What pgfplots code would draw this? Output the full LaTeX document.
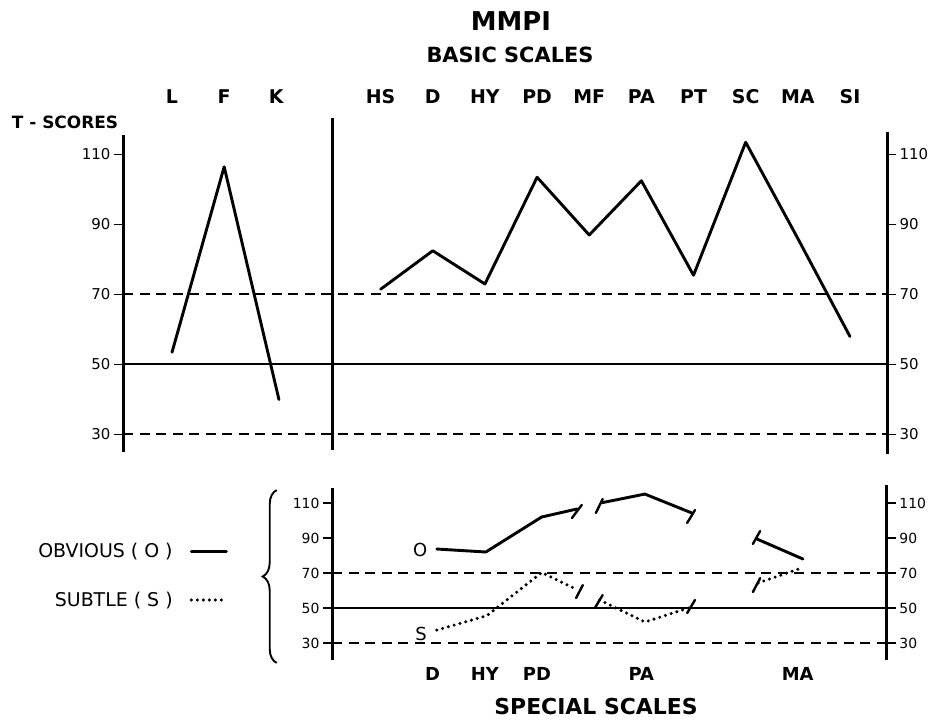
\documentclass[border=0pt]{standalone}
\usepackage{fontspec}
\setmainfont{DejaVu Sans}
\usepackage{pgfplots}
\pgfplotsset{compat=1.18}
\usetikzlibrary{decorations.pathreplacing}
\newcommand{\fs}[1]{\fontsize{#1}{#1}\selectfont}
\pgfplotsset{
  mmpi/.style={scale only axis, clip=false, axis line style={draw=none},
    ytick={30,50,70,90,110}, tick align=outside, major tick length=9bp,
    tick style={black, line width=1.8bp},
    /pgf/number format/assume math mode=true},
}
\tikzset{
  obv/.style={black, line width=2.9bp, line join=round, line cap=round},
  sub/.style={black, line width=3.4bp, line cap=round, dash pattern=on 0bp off 6bp},
  bar/.style={black, line width=2.4bp, line cap=round},
  gdash/.style={black, line width=2bp, dash pattern=on 10bp off 6.5bp},
  gsolid/.style={black, line width=2bp},
  vline/.style={black, line width=3bp},
}
\begin{document}
\begin{tikzpicture}
\useasboundingbox (0bp,0bp) rectangle (934bp,721bp);
% ---------------- BASIC SCALES ----------------
\begin{axis}[mmpi, at={(123bp,269bp)}, anchor=south west, width=764bp, height=339.5bp,
  xmin=0.06, xmax=14.71, ymin=25, ymax=122, ytick pos=left,
  yticklabel style={font=\fs{15}},
  xtick={1,2,3,5,6,7,8,9,10,11,12,13,14},
  xticklabels={L,F,K,HS,D,HY,PD,MF,PA,PT,SC,MA,SI},
  xticklabel pos=upper, major x tick style={draw=none},
  xticklabel style={font=\bfseries\fs{19}, anchor=south, inner sep=0pt, yshift=0bp}]
\addplot[gdash] coordinates {(0.06,70) (14.71,70)};
\addplot[gsolid] coordinates {(0.06,50.15) (14.71,50.15)};
\addplot[gdash] coordinates {(0.06,30) (14.71,30)};
\draw[vline] (axis cs:0.06,25) -- (axis cs:0.06,115.5);
\draw[vline] (axis cs:4.07,25.5) -- (axis cs:4.07,120.3);
\draw[vline] (axis cs:14.71,24.5) -- (axis cs:14.71,116.5);
\addplot[obv] coordinates {(1,53.5) (2,106.5) (3.05,40)};
\addplot[obv] coordinates {(5,71.5) (6,82.5) (7,73) (8,103.5) (9,87) (10,102.5) (11,75.5) (12,113.5) (13,86) (14,58)};
\end{axis}
\begin{axis}[mmpi, at={(123bp,269bp)}, anchor=south west, width=764bp, height=339.5bp,
  xmin=0.06, xmax=14.71, ymin=25, ymax=122, ytick pos=right, yticklabel pos=right,
  yticklabel style={font=\fs{15}}, xtick=\empty]
\end{axis}
% ---------------- SPECIAL SCALES ----------------
\begin{axis}[mmpi, at={(332bp,60.5bp)}, anchor=south west, width=554.9bp, height=173.25bp,
  xmin=4.07, xmax=14.71, ymin=20, ymax=119, ytick pos=left,
  yticklabel style={font=\fs{14}},
  xtick={6,7,8,10,13}, xticklabels={D,HY,PD,PA,MA},
  xticklabel pos=lower, major x tick style={draw=none},
  xticklabel style={font=\bfseries\fs{18}, anchor=north, inner sep=0pt, yshift=2.5bp},
  legend style={at={(-0.187,0.49)}, anchor=east, draw=none, fill=none, font=\fs{19},
    row sep=29bp, column sep=15bp, inner sep=0pt},
  legend cell align=right, legend plot pos=right,
  legend image code/.code={\draw[#1] (0bp,0bp) -- (35bp,0bp);}]
\addplot[gdash, forget plot] coordinates {(4.07,70) (14.71,70)};
\addplot[gsolid, forget plot] coordinates {(4.07,50) (14.71,50)};
\addplot[gdash, forget plot] coordinates {(4.07,30) (14.71,30)};
\draw[vline] (axis cs:4.07,20.3) -- (axis cs:4.07,118.6);
\draw[vline] (axis cs:14.71,20) -- (axis cs:14.71,120.3);
\draw[decorate, decoration={brace, amplitude=14bp}, line width=1.9bp] (axis cs:3.01,18.6) -- (axis cs:3.01,117.4);
% obvious
\addplot[obv] coordinates {(6.08,83.7) (7.02,82) (8.09,102) (8.77,106.6)};
\addlegendentry{OBVIOUS ( O )}
% subtle
\addplot[sub] coordinates {(6.08,37.4) (7.04,45.6) (8.09,70.3) (8.78,60.3)};
\addlegendentry{SUBTLE ( S )}
\addplot[bar, forget plot] coordinates {(8.67,101.4) (8.86,108.9)};
\addplot[bar, forget plot] coordinates {(9.13,104.3) (9.26,112.3)};
\addplot[obv, forget plot] coordinates {(9.25,110.2) (10.07,115.1) (10.97,104.3)};
\addplot[bar, forget plot] coordinates {(10.88,98.6) (11.03,106)};
\addplot[bar, forget plot] coordinates {(12.14,86.6) (12.28,94)};
\addplot[obv, forget plot] coordinates {(12.22,89.4) (13.1,78)};
\addplot[bar, forget plot] coordinates {(8.75,55.7) (8.88,63.1)};
\addplot[sub, forget plot] coordinates {(9.2,54.6) (10.07,42) (10.97,50.6)};
\addplot[bar, forget plot] coordinates {(9.11,50) (9.26,57.4)};
\addplot[bar, forget plot] coordinates {(10.88,47.1) (11.03,54.6)};
\addplot[sub, forget plot] coordinates {(12.24,64.3) (13.08,72.9)};
\addplot[bar, forget plot] coordinates {(12.14,59.1) (12.28,67.1)};
\node[font=\fs{18}] at (axis cs:5.76,83.2) {O};
\node[font=\fs{18}] at (axis cs:5.78,35.2) {S};
\end{axis}
\begin{axis}[mmpi, at={(332bp,60.5bp)}, anchor=south west, width=554.9bp, height=173.25bp,
  xmin=4.07, xmax=14.71, ymin=20, ymax=119, ytick pos=right, yticklabel pos=right,
  yticklabel style={font=\fs{14}}, xtick=\empty]
\end{axis}
% ---------------- titles ----------------
\node[font=\bfseries\fs{26}] at (511bp,700bp) {MMPI};
\node[font=\bfseries\fs{21}] at (510bp,666bp) {BASIC SCALES};
\node[font=\bfseries\fs{17}] at (65bp,599bp) {T - SCORES};
\node[font=\bfseries\fs{22}] at (596bp,14bp) {SPECIAL SCALES};
\end{tikzpicture}
\end{document}
